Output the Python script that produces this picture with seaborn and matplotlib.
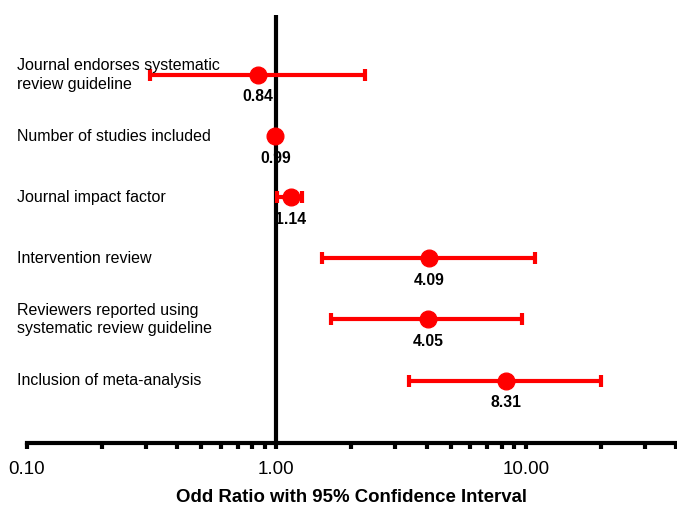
import matplotlib
matplotlib.use("Agg")
import matplotlib.pyplot as plt
import seaborn as sns
import pandas as pd
from matplotlib.ticker import FixedLocator, LogLocator, NullFormatter

labels = [
    "Journal endorses systematic\nreview guideline",
    "Number of studies included",
    "Journal impact factor",
    "Intervention review",
    "Reviewers reported using\nsystematic review guideline",
    "Inclusion of meta-analysis",
]
odds = [0.84, 0.99, 1.14, 4.09, 4.05, 8.31]
ci_low = [0.31, 0.98, 1.01, 1.53, 1.66, 3.39]
ci_high = [2.26, 1.01, 1.27, 10.86, 9.65, 20.0]

df = pd.DataFrame({"label": labels, "or": odds, "lo": ci_low, "hi": ci_high})
df["row"] = range(len(df))

sns.set_style("white")
plt.rcParams["font.family"] = ["Liberation Sans", "DejaVu Sans"]
plt.rcParams["text.color"] = "black"
plt.rcParams["xtick.color"] = "black"
plt.rcParams["axes.labelcolor"] = "black"

fig = plt.figure(figsize=(6.77, 5.11), dpi=100)
ax = fig.add_axes([27 / 677, 68 / 511, 650 / 677, 428 / 511])

# reference line at OR = 1
ax.axvline(1.0, color="black", lw=3, zorder=1)

# confidence intervals
ax.errorbar(df["or"], df["row"],
            xerr=[df["or"] - df["lo"], df["hi"] - df["or"]],
            fmt="none", ecolor="red", elinewidth=3, capsize=4.5, capthick=3,
            zorder=2)
sns.scatterplot(data=df, x="or", y="row", ax=ax, color="red", s=145,
                edgecolor="red", zorder=3, legend=False)

for _, r in df.iterrows():
    ax.text(r["or"], r["row"] + 0.36, f"{r['or']:.2f}", ha="center", va="center",
            fontsize=11.3, fontweight="bold")
    ax.text(-10 / 650, r["row"], r["label"], ha="left", va="center",
            fontsize=11.5, linespacing=1.3,
            transform=ax.get_yaxis_transform(), clip_on=False)

ax.set_xscale("log")
ax.set_xlim(0.1, 40.4)
ax.set_ylim(6.02, -0.98)

ax.xaxis.set_major_locator(FixedLocator([0.1, 1, 10]))
ax.set_xticklabels(["0.10", "1.00", "10.00"], fontsize=13.5)
ax.xaxis.set_minor_locator(LogLocator(base=10, subs=range(2, 10)))
ax.xaxis.set_minor_formatter(NullFormatter())
ax.tick_params(axis="x", which="both", direction="out", length=4, width=3,
               color="black", pad=9, bottom=True)
ax.set_yticks([])
ax.set_ylabel("")
ax.set_xlabel("Odd Ratio with 95% Confidence Interval", fontsize=13.4,
              fontweight="bold", labelpad=8)

for side in ["left", "top", "right"]:
    ax.spines[side].set_visible(False)
ax.spines["bottom"].set_linewidth(3)
ax.spines["bottom"].set_color("black")

fig.savefig("out.png", dpi=100)
